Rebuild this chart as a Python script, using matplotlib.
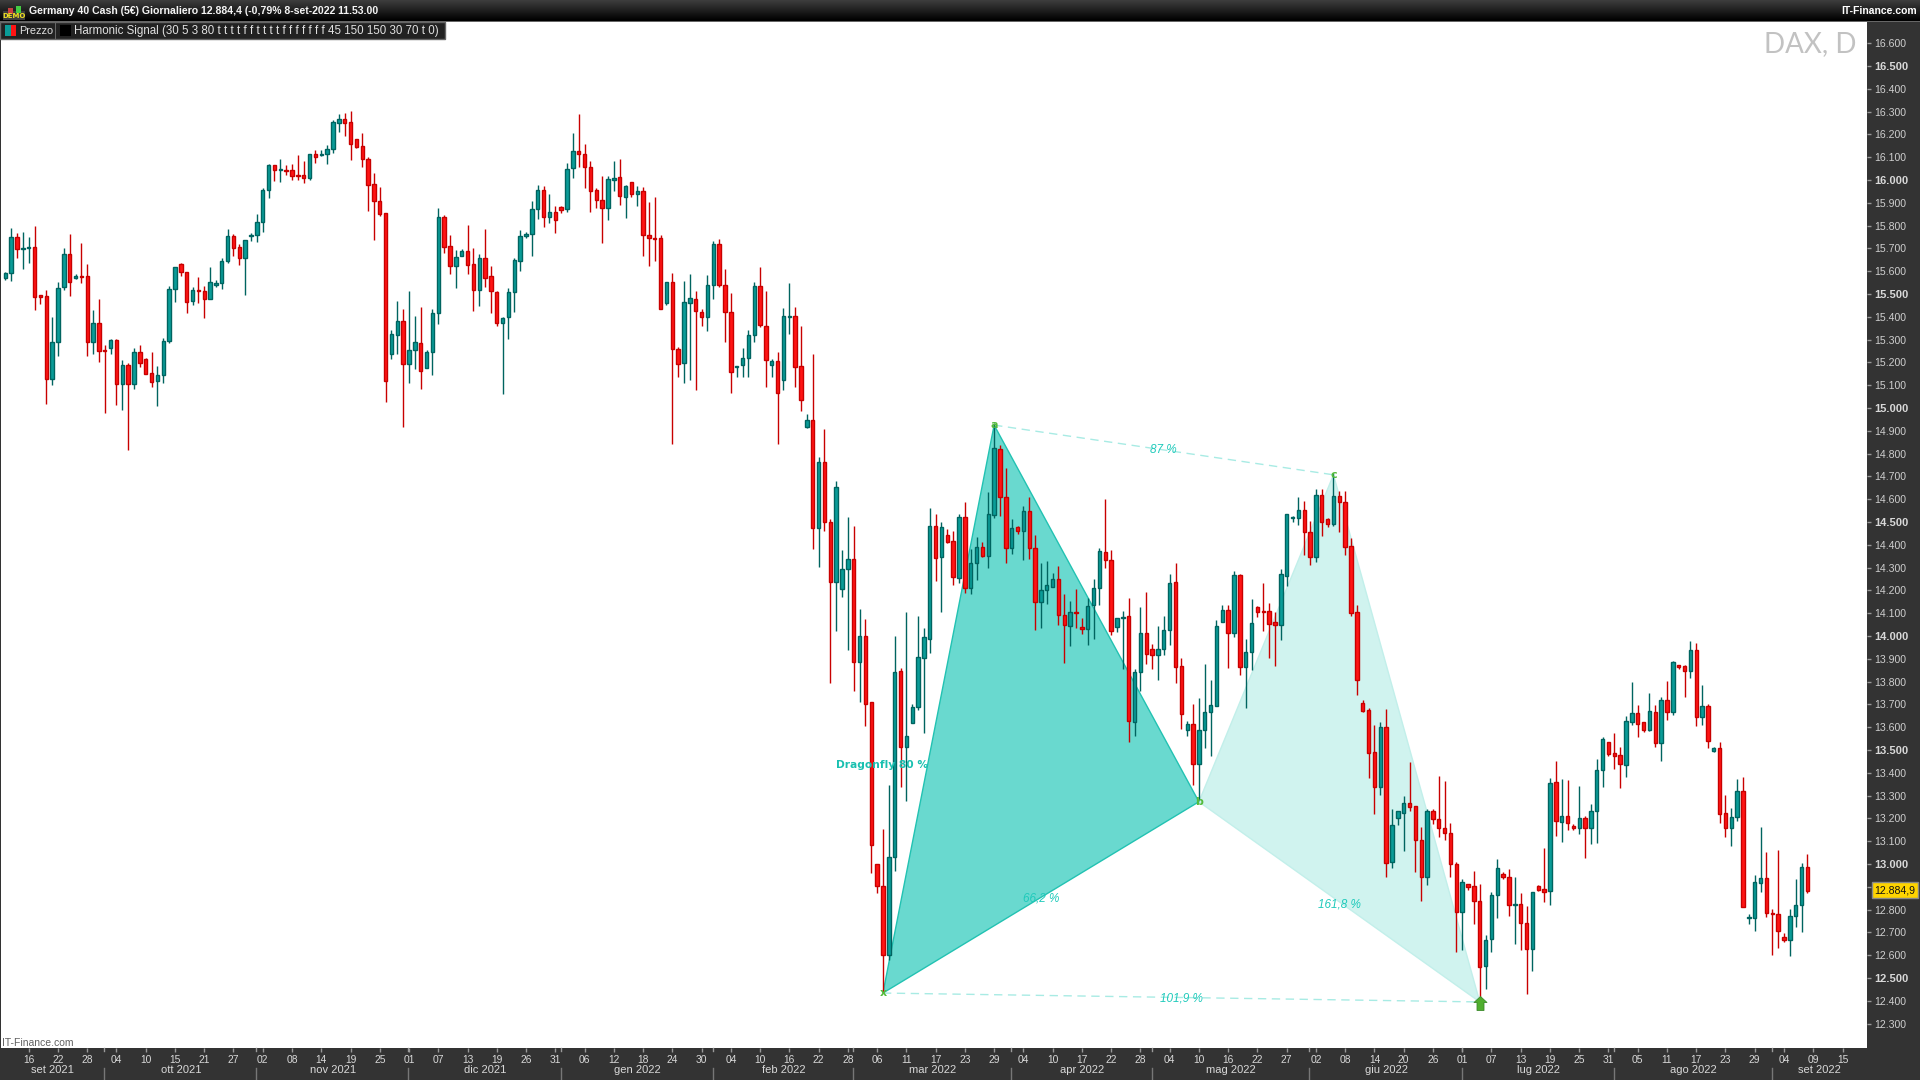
import numpy as np
import matplotlib
matplotlib.use("Agg")
import matplotlib.pyplot as plt
from matplotlib.path import Path
from matplotlib.patches import Rectangle, Polygon

# Daily candles, one value per bar
opens = [
    15572,15591,15749,15696,15700,15705,15494,15490,15126,15288,
    15529,15674,15569,15579,15577,15291,15371,15253,15262,15297,
    15104,15187,15104,15244,15213,15152,15117,15143,15292,15520,
    15630,15595,15468,15516,15512,15480,15541,15547,15643,15753,
    15705,15656,15756,15757,15814,15954,16065,16045,16043,16042,
    16021,16020,16010,16114,16111,16116,16138,16251,16267,16254,
    16178,16149,16090,15981,15910,15854,15235,15322,15380,15192,
    15253,15284,15177,15244,15418,15836,15709,15624,15668,15687,
    15630,15519,15657,15578,15507,15371,15398,15507,15643,15753,
    15762,15871,15955,15836,15858,15880,15871,16051,16126,16113,
    16056,15955,15911,15876,15999,16012,15924,15990,15937,15950,
    15757,15746,15744,15459,15551,15257,15196,15459,15477,15420,
    15398,15538,15718,15538,15420,15181,15187,15218,15319,15534,
    15358,15187,15205,15123,15399,15402,15183,14918,14947,14475,
    14762,14498,14238,14208,14292,14336,13887,13998,13709,12999,
    12902,12601,13029,13845,13515,13617,13687,13905,13988,14482,
    14348,14443,14415,14256,14522,14212,14319,14389,14351,14532,
    14819,14608,14384,14478,14459,14547,14384,14148,14200,14213,
    14248,14091,14042,14105,14038,14029,14134,14209,14367,14332,
    14038,14077,14086,13625,13841,14012,13941,13918,13941,14025,
    14235,13868,13586,13613,13437,13587,13665,13694,14063,14113,
    14015,14266,13865,13928,14126,14108,14108,14060,14050,14265,
    14519,14519,14551,14455,14348,14617,14512,14493,14613,14589,
    14393,14104,13705,13674,13490,13339,13600,13010,13203,13225,
    13266,13253,13104,12945,13231,13196,13157,13135,12999,12788,
    12914,12902,12836,12551,12670,12863,12955,12942,12822,12823,
    12740,12626,12902,12889,12880,13358,13186,13209,13165,13157,
    13200,13159,13231,13411,13534,13486,13477,13436,13624,13661,
    13621,13589,13665,13532,13718,13668,13872,13867,13848,13937,
    13646,13691,13497,13507,13222,13159,13204,13318,12764,12764,
    12918,12937,12786,12779,12678,12668,12770,12818,12989,
]
highs = [
    15596,15789,15768,15772,15750,15798,15494,15516,15399,15551,
    15700,15762,15586,15722,15632,15428,15477,15275,15301,15301,
    15209,15196,15262,15275,15218,15244,15183,15306,15534,15617,
    15634,15598,15529,15573,15534,15617,15560,15656,15784,15762,
    15718,15735,15766,15851,15963,16068,16067,16092,16067,16070,
    16109,16083,16116,16131,16131,16152,16263,16289,16293,16302,
    16178,16204,16099,16030,15969,15854,15342,15469,15433,15512,
    15404,15443,15254,15433,15876,15846,15759,15693,15696,15803,
    15700,15675,15785,15623,15512,15401,15525,15657,15779,15771,
    15907,15978,15974,15939,15885,15885,16073,16206,16290,16157,
    16082,15964,16018,16018,16083,16091,15978,15990,15972,15968,
    15902,15924,15757,15551,15591,15268,15556,15586,15512,15433,
    15582,15731,15740,15608,15503,15186,15262,15341,15551,15617,
    15512,15214,15244,15437,15548,15442,15358,14974,15237,14785,
    14908,14513,14680,14376,14520,14482,14117,14073,13709,12999,
    13154,13345,13999,13858,14104,13701,14088,14034,14561,14534,
    14500,14468,14459,14535,14588,14381,14434,14412,14631,14933,
    14836,14735,14512,14482,14569,14608,14441,14320,14327,14276,
    14305,14183,14152,14205,14077,14165,14248,14384,14599,14376,
    14077,14108,14165,13856,14126,14191,13965,14042,14088,14272,
    14319,13903,13627,13702,13728,13877,13807,14070,14136,14136,
    14284,14270,13987,14161,14132,14232,14143,14104,14292,14534,
    14526,14608,14591,14504,14645,14645,14516,14713,14634,14634,
    14428,14136,13719,13684,13610,13623,13680,13240,13231,13298,
    13446,13253,13161,13240,13240,13386,13364,13178,13007,12933,
    12914,12968,12911,12687,12876,13021,12964,12977,12943,12871,
    12814,12876,12907,13069,13376,13450,13371,13367,13174,13341,
    13209,13262,13461,13556,13534,13575,13512,13649,13797,13696,
    13621,13749,13696,13734,13802,13890,13875,13875,13978,13968,
    13785,13701,13511,13533,13302,13245,13372,13381,12779,12951,
    13162,13052,12801,13061,12697,12801,12934,13003,13044,
]
lows = [
    15563,15558,15658,15611,15637,15431,15458,15019,15102,15230,
    15518,15493,15567,15550,15230,15238,15203,14980,15238,15013,
    14993,14816,15083,15181,15148,15094,15010,15111,15287,15466,
    15580,15418,15453,15462,15396,15477,15532,15523,15634,15668,
    15629,15496,15732,15730,15772,15922,15995,15992,16024,16000,
    16000,15988,16001,16073,16106,16071,16118,16210,16194,16087,
    16140,16058,15864,15736,15843,15028,15216,15238,14917,15111,
    15171,15083,15177,15145,15368,15681,15588,15528,15667,15588,
    15425,15447,15531,15418,15361,15062,15304,15423,15602,15744,
    15668,15831,15795,15813,15769,15857,15861,16009,16059,15966,
    15861,15879,15725,15825,15953,15892,15835,15927,15888,15668,
    15624,15646,15433,15450,14842,15138,15108,15123,15079,15361,
    15339,15480,15532,15291,15064,15138,15138,15138,15291,15357,
    15094,15138,14841,15079,15326,15094,14987,14911,14381,14303,
    14460,13795,14023,14172,13940,13760,13712,13606,12962,12875,
    12434,12580,12971,13339,13278,13617,13676,13576,13927,14241,
    14105,14409,14224,14232,14190,14184,14246,14348,14298,14519,
    14526,14322,14361,14447,14333,14339,14028,14036,14139,14213,
    14048,13883,13958,14036,14010,13962,13988,14137,14300,14006,
    14019,13854,13537,13563,13760,13877,13855,13808,13917,13960,
    13795,13591,13563,13348,13281,13509,13475,13694,14063,13860,
    13997,13829,13686,13851,14083,14022,13903,13868,13982,14219,
    14500,14487,14355,14311,14324,14439,14478,14482,14456,14355,
    14088,13741,13667,13379,13219,13303,12945,12983,13171,13057,
    13233,12967,12838,12908,13176,13119,13105,12945,12616,12623,
    12886,12738,12418,12453,12616,12765,12936,12772,12651,12624,
    12431,12532,12882,12835,12822,13123,13098,13149,13149,13132,
    13028,13088,13094,13339,13475,13417,13333,13383,13610,13559,
    13581,13585,13515,13453,13631,13653,13856,13734,13817,13605,
    13609,13510,13491,13181,13118,13079,13190,12813,12737,12706,
    12877,12767,12601,12633,12656,12596,12723,12701,12874,
]
closes = [
    15591,15749,15696,15700,15705,15485,15488,15126,15288,15525,
    15674,15554,15577,15576,15288,15371,15251,15251,15297,15104,
    15187,15104,15244,15196,15151,15113,15143,15292,15520,15617,
    15595,15466,15516,15512,15480,15551,15547,15643,15753,15703,
    15656,15735,15759,15814,15955,16065,16045,16048,16040,16019,
    16016,16010,16114,16102,16116,16138,16254,16266,16251,16159,
    16146,16090,15979,15909,15853,15120,15323,15380,15192,15253,
    15288,15161,15244,15415,15836,15708,15624,15661,15687,15629,
    15516,15656,15572,15512,15371,15393,15507,15648,15753,15762,
    15871,15955,15836,15858,15823,15867,16047,16126,16113,16056,
    15950,15911,15876,16003,16007,15928,15972,15937,15950,15757,
    15744,15743,15433,15551,15257,15192,15464,15481,15424,15398,
    15538,15718,15538,15420,15159,15186,15218,15319,15534,15363,
    15209,15205,15064,15402,15402,15181,15034,14947,14475,14762,
    14498,14238,14652,14292,14336,13887,13998,13703,13082,12905,
    12601,13029,13841,13515,13560,13689,13907,13994,14482,14343,
    14478,14414,14260,14522,14212,14320,14389,14351,14534,14823,
    14608,14384,14472,14462,14547,14384,14148,14200,14222,14248,
    14091,14047,14104,14102,14029,14130,14209,14371,14335,14020,
    14077,14082,13625,13841,14012,13922,13918,13941,14025,14231,
    13865,13656,13612,13437,13587,13665,13696,14042,14113,14015,
    14266,13865,13928,14055,14107,14107,14054,14050,14270,14534,
    14522,14551,14455,14348,14617,14498,14493,14613,14589,14392,
    14102,13808,13672,13488,13339,13600,13006,13170,13231,13266,
    13252,13104,12945,13231,13196,13157,13138,12999,12788,12920,
    12901,12836,12550,12665,12863,12981,12942,12819,12825,12740,
    12626,12876,12888,12879,13354,13187,13209,13178,13157,13200,
    13159,13231,13411,13548,13484,13475,13440,13627,13661,13616,
    13589,13670,13532,13718,13668,13884,13865,13848,13937,13646,
    13691,13538,13507,13220,13159,13204,13318,12813,12767,12919,
    12937,12786,12779,12707,12668,12770,12818,12989,12883,
]

# Harmonic pattern: bar number and price of X, A, B, C, D
pattern_names = ["x", "a", "b", "c"]
pattern_bars = [150, 169, 204, 227, 252]
pattern_prices = [12434, 14925, 13273, 14707, 12395]

# Axis labels
day_labels = ["16","22","28","04","10","15","21","27","02","08","14","19","25","01","07","13",
              "19","26","31","06","12","18","24","30","04","10","16","22","28","06","11","17",
              "23","29","04","10","17","22","28","04","10","16","22","27","02","08","14","20",
              "26","01","07","13","19","25","31","05","11","17","23","29","04","09","15"]
month_labels = ["set 2021","ott 2021","nov 2021","dic 2021","gen 2022","feb 2022","mar 2022",
                "apr 2022","mag 2022","giu 2022","lug 2022","ago 2022","set 2022"]
month_edges = [-1, 17, 43, 69, 95, 121, 145, 172, 196, 223, 249, 275, 302, 318]
price_ticks = list(range(12300, 16700, 100))
last_price = 12884.9

TITLE = "Germany 40 Cash (5€) Giornaliero 12.884,4 (-0,79% 8-set-2022 11.53.00"
LEGEND = "Harmonic Signal (30 5 3 80 t t t t f f t t t t f f f f f f f 45 150 150 30 70 t 0)"

NARROW = ["Liberation Sans Narrow", "Liberation Sans", "DejaVu Sans"]
SANS = ["Liberation Sans", "DejaVu Sans"]
TEAL, TEAL_DARK = "#0a9c98", "#006460"
RED, RED_DARK = "#ff1414", "#c80000"
PATTERN = "#19c3b2"
GREEN = "#55bb3c"

W, H = 1920, 1080
PLOT_L, PLOT_R, PLOT_T, PLOT_B = 1, 1867, 22, 1048
BAR0, BAR_STEP = 5.3, 5.851
PRICE_500, PX_PER_POINT = 16500, 0.228
BAR_PX = 3.4  # bar body width in pixels


def fmt_price(v):
    return f"{v:,.0f}".replace(",", ".")


fig = plt.figure(figsize=(W / 100, H / 100), dpi=100, facecolor="#333333")
ax = fig.add_axes([PLOT_L / W, 1 - PLOT_B / H, (PLOT_R - PLOT_L) / W, (PLOT_B - PLOT_T) / H])
ax.set_facecolor("white")
for s in ax.spines.values():
    s.set_visible(False)
ax.set_xlim((PLOT_L - BAR0) / BAR_STEP, (PLOT_R - BAR0) / BAR_STEP)
ax.set_ylim(PRICE_500 - (PLOT_B - 66) / PX_PER_POINT, PRICE_500 + (66 - PLOT_T) / PX_PER_POINT)

# Pattern triangles, under the candles
bars = np.arange(len(opens))
xa = list(zip(pattern_bars, pattern_prices))
ax.add_patch(Polygon(xa[2:5], closed=True, facecolor="#d0f3ef", edgecolor="#c2efea", lw=1, zorder=1))
ax.add_patch(Polygon(xa[0:3], closed=True, facecolor="#69d9cf", edgecolor="#22c2b2", lw=1, zorder=1.1))
ax.plot([xa[1][0], xa[3][0]], [xa[1][1], xa[3][1]], color="#a8ebe4", lw=1, ls=(0, (6, 4)), zorder=1.2)
ax.plot([xa[0][0], xa[4][0]], [xa[0][1], xa[4][1]], color="#a8ebe4", lw=1, ls=(0, (6, 4)), zorder=1.2)

# Candles
opens = np.array(opens)
closes = np.array(closes)
highs = np.array(highs)
lows = np.array(lows)
up = closes >= opens
ax.vlines(bars[up], lows[up], highs[up], color=TEAL_DARK, lw=1, zorder=2)
ax.vlines(bars[~up], lows[~up], highs[~up], color=RED_DARK, lw=1, zorder=2)
width = BAR_PX / BAR_STEP
ax.bar(bars[up], (closes - opens)[up], bottom=opens[up], width=width,
       facecolor=TEAL, edgecolor=TEAL_DARK, linewidth=1, zorder=3)
ax.bar(bars[~up], (closes - opens)[~up], bottom=opens[~up], width=width,
       facecolor=RED, edgecolor=RED_DARK, linewidth=1, zorder=3)

# Pattern labels
for name, b, p in zip(pattern_names, pattern_bars, pattern_prices):
    ax.text(b, p, name, color=GREEN, fontsize=8, fontweight="bold", family="DejaVu Sans",
            ha="center", va="center", zorder=5)
pct = dict(color="#1fcabb", fontsize=8.5, style="italic", family=SANS, ha="center", va="center", zorder=5)
ax.text((xa[1][0] + xa[3][0]) / 2, (xa[1][1] + xa[3][1]) / 2, "87 %", **pct)
ax.text((xa[0][0] + xa[2][0]) / 2, (xa[0][1] + xa[2][1]) / 2 - 5, "66,2 %", **pct)
ax.text((xa[2][0] + xa[4][0]) / 2, (xa[2][1] + xa[4][1]) / 2 - 10, "161,8 %", **pct)
ax.text((xa[0][0] + xa[4][0]) / 2, (xa[0][1] + xa[4][1]) / 2 - 5, "101,9 %", **pct)
ax.annotate("Dragonfly 80 %", xy=xa[0], xytext=(882 / W, 1 - 765 / H), textcoords="figure fraction",
            color="#19c0b0", fontsize=7.7, fontweight="bold", family="DejaVu Sans",
            ha="center", va="center", zorder=5)

# Buy arrow at D
arrow = Path([(0, 6), (6.5, 0), (3.5, 0), (3.5, -8), (-3.5, -8), (-3.5, 0), (-6.5, 0), (0, 6)], closed=True)
ax.plot([xa[4][0]], [xa[4][1]], marker=arrow, markersize=11.5, mfc="#4fae2e", mec="#3a8a2a",
        mew=0.6, ls="none", zorder=6, clip_on=False)

# Right price axis, the last price box covers the 12.900 label
ax.yaxis.tick_right()
ax.set_yticks(price_ticks)
ax.set_yticklabels(["" if v == 12900 else fmt_price(v) for v in price_ticks])
ax.tick_params(axis="y", length=3, width=1, color="#999999", pad=2.5, labelcolor="#d8d8d8")
for lab, v in zip(ax.get_yticklabels(), price_ticks):
    lab.set_family(SANS)
    if v % 500 == 0:
        lab.set_fontweight("bold")
        lab.set_fontsize(8)
    else:
        lab.set_fontsize(7.6)
        lab.set_color("#cfcfcf")

# Date axis
ax.set_xticks(np.arange(4, 4 + 5 * len(day_labels), 5)[:len(day_labels)])
ax.set_xticklabels(day_labels, family=NARROW, fontsize=7.4, color="#d8d8d8")
ax.tick_params(axis="x", length=3, width=1, color="#999999", pad=2)
trans = ax.get_xaxis_transform()
axis_h = PLOT_B - PLOT_T
for edge in month_edges[1:-1]:
    ax.plot([edge - 0.1] * 2, [-20 / axis_h, -32 / axis_h], color="#777777", lw=1, transform=trans, clip_on=False)
    ax.plot([edge - 0.1] * 2, [0, -3 / axis_h], color="#999999", lw=1, transform=trans, clip_on=False)
for i, label in enumerate(month_labels):
    ax.text((month_edges[i] + month_edges[i + 1]) / 2, -22 / axis_h, label, transform=trans, family=NARROW,
            fontsize=8, color="#d8d8d8", ha="center", va="center", clip_on=False)

# Watermarks and last price box
ax.text((1857 - PLOT_L) / (PLOT_R - PLOT_L), 1 - (44 - PLOT_T) / axis_h, "DAX, D", transform=ax.transAxes,
        family="Lato", fontsize=20, color="#c2c2c2", ha="right", va="center")
ax.text(1 / (PLOT_R - PLOT_L), 1 - (1043 - PLOT_T) / axis_h, "IT-Finance.com", transform=ax.transAxes,
        family=NARROW, fontsize=7.5, color="#606060", ha="left", va="center")
ax.text((1895 - PLOT_L) / (PLOT_R - PLOT_L), last_price, "12.884,9", transform=ax.get_yaxis_transform(),
        family=SANS, fontsize=7.6, color="#111111", ha="center", va="center", clip_on=False, zorder=10,
        bbox=dict(boxstyle="square,pad=0.28", facecolor="#ffd400", edgecolor="#888888", lw=1))

# Header bars, in pixel coordinates on a top layer
top = fig.add_axes([0, 0, 1, 1], zorder=5)
top.set_xlim(0, W)
top.set_ylim(H, 0)
top.axis("off")
top.patch.set_alpha(0)
grad = np.linspace(0.24, 0.0, 22).reshape(-1, 1)
top.imshow(grad, cmap="gray", vmin=0, vmax=1, extent=(0, W, 21, 0), aspect="auto", zorder=1)
top.set_xlim(0, W)
top.set_ylim(H, 0)
top.add_patch(Rectangle((0, 21), W, 1.2, facecolor="#666666", edgecolor="none", zorder=2))
top.add_patch(Rectangle((0, 22), 445, 17, facecolor="#222222", edgecolor="#666666", lw=1, zorder=2))
top.add_patch(Rectangle((55, 22), 1, 17, facecolor="#666666", edgecolor="none", zorder=3))
top.add_patch(Rectangle((5, 25), 5.5, 11, facecolor=TEAL, edgecolor="none", zorder=3))
top.add_patch(Rectangle((10.5, 25), 5.5, 11, facecolor=RED, edgecolor="none", zorder=3))
top.add_patch(Rectangle((60, 25), 11, 11, facecolor="black", edgecolor="none", zorder=3))
top.text(19, 31, "Prezzo", family=SANS, fontsize=7.8, color="#e0e0e0", va="center", zorder=4)
top.text(74, 31, LEGEND, family=SANS, fontsize=8.3, color="#e0e0e0", va="center", zorder=4)
top.text(29, 11, TITLE, family=NARROW, fontsize=7.6, fontweight="bold", color="#f4f4f4", va="center", zorder=4)
top.text(1917, 11, "IT-Finance.com", family=NARROW, fontsize=7.5, fontweight="bold", color="white",
         ha="right", va="center", zorder=4)

# Small DEMO icon
top.add_patch(Rectangle((3, 11), 22, 9, facecolor="#3c3c3c", edgecolor="none", zorder=3))
top.add_patch(Rectangle((8, 8), 5, 6, facecolor="#c84040", edgecolor="none", zorder=4))
top.add_patch(Rectangle((16, 6), 5, 7, facecolor="#44cc44", edgecolor="none", zorder=4))
top.text(14, 16, "DEMO", family="DejaVu Sans", fontsize=5, fontweight="bold", color="#f0e020",
         ha="center", va="center", zorder=5)

fig.savefig("out.png", dpi=100, facecolor=fig.get_facecolor())
